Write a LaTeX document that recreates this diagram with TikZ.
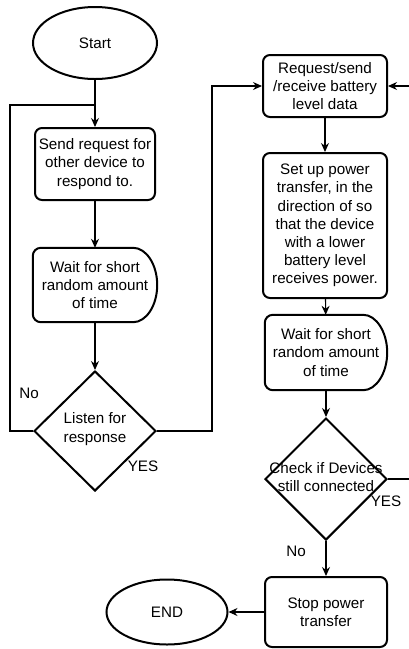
\documentclass[tikz,border=0pt]{standalone}
\usepackage{fontspec}
\setmainfont{Liberation Sans}
\usetikzlibrary{shapes.geometric,arrows.meta}
\begin{document}
\begin{tikzpicture}[x=1pt,y=-1pt,
  every node/.style={font=\fontsize{15.2}{18.2}\selectfont, align=center, inner sep=0pt},
  proc/.style={draw, line width=2pt, rounded corners=7pt},
  term/.style={draw, ellipse, line width=2pt},
  dia/.style={draw, diamond, line width=2pt},
  delaybox/.style={line width=2pt},
  link/.style={line width=1.2pt},
  con/.style={line width=1.2pt, -{Stealth[length=9pt,width=8pt]}},
]
\useasboundingbox (0,0) rectangle (409,649);
\clip (0,0) rectangle (409,649);

% left column
\node[term, minimum width=124pt, minimum height=72pt] (start) at (95,43) {Start};
\node[proc, minimum width=120pt, minimum height=72pt] (s1) at (95,164) {Send request for\\other device to\\respond to.};
\node[minimum width=124pt, minimum height=74pt] (w1) at (95,285) {Wait for short\\random amount\\of time};
\draw[delaybox] ([xshift=-24pt]w1.south east) [rounded corners=8pt] -- (w1.south west) -- (w1.north west) [sharp corners] -- ([xshift=-24pt]w1.north east)
  .. controls +(13,0) and +(0,-20.5) .. (w1.east)
  .. controls +(0,20.5) and +(13,0) .. ([xshift=-24pt]w1.south east) -- cycle;
\node[dia, minimum width=122pt, minimum height=120pt] (d1) at (95,431) {};
\node (d1t) at (95,429) {Listen for\\response};

% right column
\node[proc, minimum width=124pt, minimum height=62pt] (r1) at (325,86) {Request/send\\/receive battery\\level data};
\node[proc, minimum width=124pt, minimum height=145pt] (r2) at (325,225.5) {Set up power\\transfer, in the\\direction of so\\that the device\\with a lower\\battery level\\receives power.};
\node[minimum width=122pt, minimum height=75pt] (w2) at (326,352.5) {Wait for short\\random amount\\of time};
\draw[delaybox] ([xshift=-24pt]w2.south east) [rounded corners=8pt] -- (w2.south west) -- (w2.north west) [sharp corners] -- ([xshift=-24pt]w2.north east)
  .. controls +(13,0) and +(0,-20.5) .. (w2.east)
  .. controls +(0,20.5) and +(13,0) .. ([xshift=-24pt]w2.south east) -- cycle;
\node[dia, minimum width=122pt, minimum height=122pt] (d2) at (326,479) {};
\node (d2t) at (326,477) {Check if Devices\\still connected};
\node[proc, minimum width=122pt, minimum height=70pt] (stop) at (326,612) {Stop power\\transfer};
\node[term, minimum width=121pt, minimum height=65pt] (end) at (167,612) {END};

% labels
\node (no1) at (29,393) {No};
\node (yes1) at (143,466) {YES};
\node (yes2) at (386,501) {YES};
\node (no2) at (296,551) {No};

% connectors
\coordinate (j1) at (95,105);
\coordinate (lp) at (10,105);
\coordinate (rp) at (212,431);
\coordinate (ep) at (420,300);
\draw[con] (start) -- (s1);
\draw[link] (d1.west) -| (lp) -- (j1);
\draw[con] (s1) -- (w1);
\draw[con] (w1) -- (d1);
\draw[con] (d1.east) -- (rp) |- (r1.west);
\draw[con] (r1) -- (r2);
\draw[con] (r2) -- (w2);
\draw[con] (w2) -- (d2);
\draw[con] (d2.east) -| (ep) |- (r1.east);
\draw[con] (d2) -- (stop);
\draw[con] (stop) -- (end);
\end{tikzpicture}
\end{document}
